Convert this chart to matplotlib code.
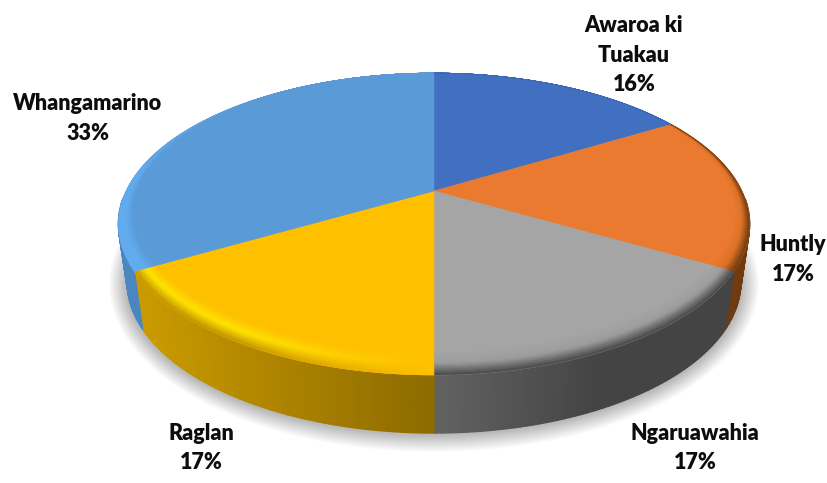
#!/usr/bin/env python3
# 3D looking pie, drawn by hand because matplotlib has no perspective pie
import numpy as np
import matplotlib
matplotlib.use("Agg")
import matplotlib.pyplot as plt
from matplotlib.collections import PolyCollection
from matplotlib.colors import to_rgb
from matplotlib.patches import Ellipse

labels = ["Awaroa ki\nTuakau", "Huntly", "Ngaruawahia", "Raglan", "Whangamarino"]
values = [16.4, 16.9, 16.7, 16.7, 33.3]

face_colors = ["#4270C0", "#EA7A2F", "#A5A5A5", "#FFC000", "#5A9AD6"]
mid_colors = ["#4270C0", "#DE7228", "#9C9C9C", "#FFE400", "#62ACF0"]
edge_colors = ["#3C66B0", "#6E3A10", "#464646", "#C09200", "#62ACF0"]
side_left = ["#2F5597", "#7A4012", "#626262", "#CB9B00", "#4A86C0"]
side_right = ["#2F5597", "#6E3A10", "#444444", "#8C6A00", "#4C8AC6"]

label_xy = [(634, 55), (793, 259.5), (695, 448), (201, 448), (88, 118.5)]

# geometry of the ellipse in image pixels
CX, HUB_Y = 434, 191
C, A, D = 0.2185, 143.8, 308
DEPTH = 58


def project(theta, r=1.0):
    """theta in degrees, clockwise from the top"""
    t = np.radians(theta)
    x0 = r * np.sin(t)
    y0 = r * np.cos(t)
    w = 1 + C * y0
    return CX + D * x0 / w, HUB_Y - (A * y0) / w


def below(x, y):
    return CX + (x - CX) * 0.972, y + DEPTH


def bevel_r(theta):
    # bevel is wide at the front of the pie and gone at the back
    return 1 - 0.1 * ((1 - np.cos(np.radians(theta))) / 2) ** 1.5


def mix(c1, c2, t):
    return tuple(a + (b - a) * t for a, b in zip(to_rgb(c1), to_rgb(c2)))


fig = plt.figure(figsize=(8.27, 4.83), dpi=100)
ax = fig.add_axes([0, 0, 1, 1])
ax.set_xlim(0, 827)
ax.set_ylim(483, 0)
ax.axis("off")

# soft shadow
for grow in np.linspace(17, 0, 18):
    ax.add_patch(Ellipse((CX, 284), 2 * 308 + 2 * grow, 2 * 151 + 2 * grow,
                         fc="#000000", ec="none", alpha=0.016, zorder=1))

edges = np.concatenate([[0], np.cumsum(values)]) / sum(values) * 360

side_polys, side_cols = [], []
rim_polys, rim_cols = [], []
ts = np.linspace(0, 1, 11)

for i in range(len(values)):
    th = np.arange(edges[i], edges[i + 1] + 0.01, 1.0)
    if th[-1] < edges[i + 1]:
        th = np.append(th, edges[i + 1])

    # top face
    px, py = project(th)
    ax.fill(np.r_[CX, px], np.r_[HUB_Y, py], color=face_colors[i], lw=0.4, zorder=4)

    xmin, xmax = min(px), max(px)
    for a, b in zip(th[:-1], th[1:]):
        xa, ya = project(a)
        xb, yb = project(b)
        if ya > 200 or yb > 200:
            f = ((xa + xb) / 2 - xmin) / max(xmax - xmin, 1)
            if i == 2:
                f = min(1.0, f * 1.8)
            side_polys.append([(xa, ya), (xb, yb), below(xb, yb), below(xa, ya)])
            side_cols.append(mix(side_left[i], side_right[i], f))

        # highlight is weak at the front on yellow and at the back on light blue
        w = 1.0
        if i == 3:
            w = min(1.0, (0.5 * (a + b) - 180) / 32)
        if i == 4:
            w = np.clip((320 - 0.5 * (a + b)) / 45, 0, 1)
        mid = mix(face_colors[i], mid_colors[i], w)
        edge = mix(face_colors[i], edge_colors[i], w)
        for t0, t1 in zip(ts[:-1], ts[1:]):
            ra0 = bevel_r(a) + (1 - bevel_r(a)) * t0
            ra1 = bevel_r(a) + (1 - bevel_r(a)) * t1
            rb0 = bevel_r(b) + (1 - bevel_r(b)) * t0
            rb1 = bevel_r(b) + (1 - bevel_r(b)) * t1
            q = [project(a, ra0), project(b, rb0), project(b, rb1), project(a, ra1)]
            tm = (t0 + t1) / 2
            if tm < 0.5:
                col = mix(face_colors[i], mid, tm / 0.5)
            else:
                col = mix(mid, edge, (tm - 0.5) / 0.5)
            rim_polys.append(q)
            rim_cols.append(col)

ax.add_collection(PolyCollection(side_polys, facecolors=side_cols, edgecolors=side_cols,
                                 linewidths=1.0, zorder=3))
ax.add_collection(PolyCollection(rim_polys, facecolors=rim_cols, edgecolors=rim_cols,
                                 linewidths=0.3, zorder=5))

for name, val, (lx, ly) in zip(labels, values, label_xy):
    ax.text(lx, ly, f"{name}\n{round(val)}%", ha="center", va="center", family="Lato",
            fontweight=800, fontsize=15.5, linespacing=1.5, color="#0D0D0D", zorder=6)

fig.savefig("out.png", dpi=100)
